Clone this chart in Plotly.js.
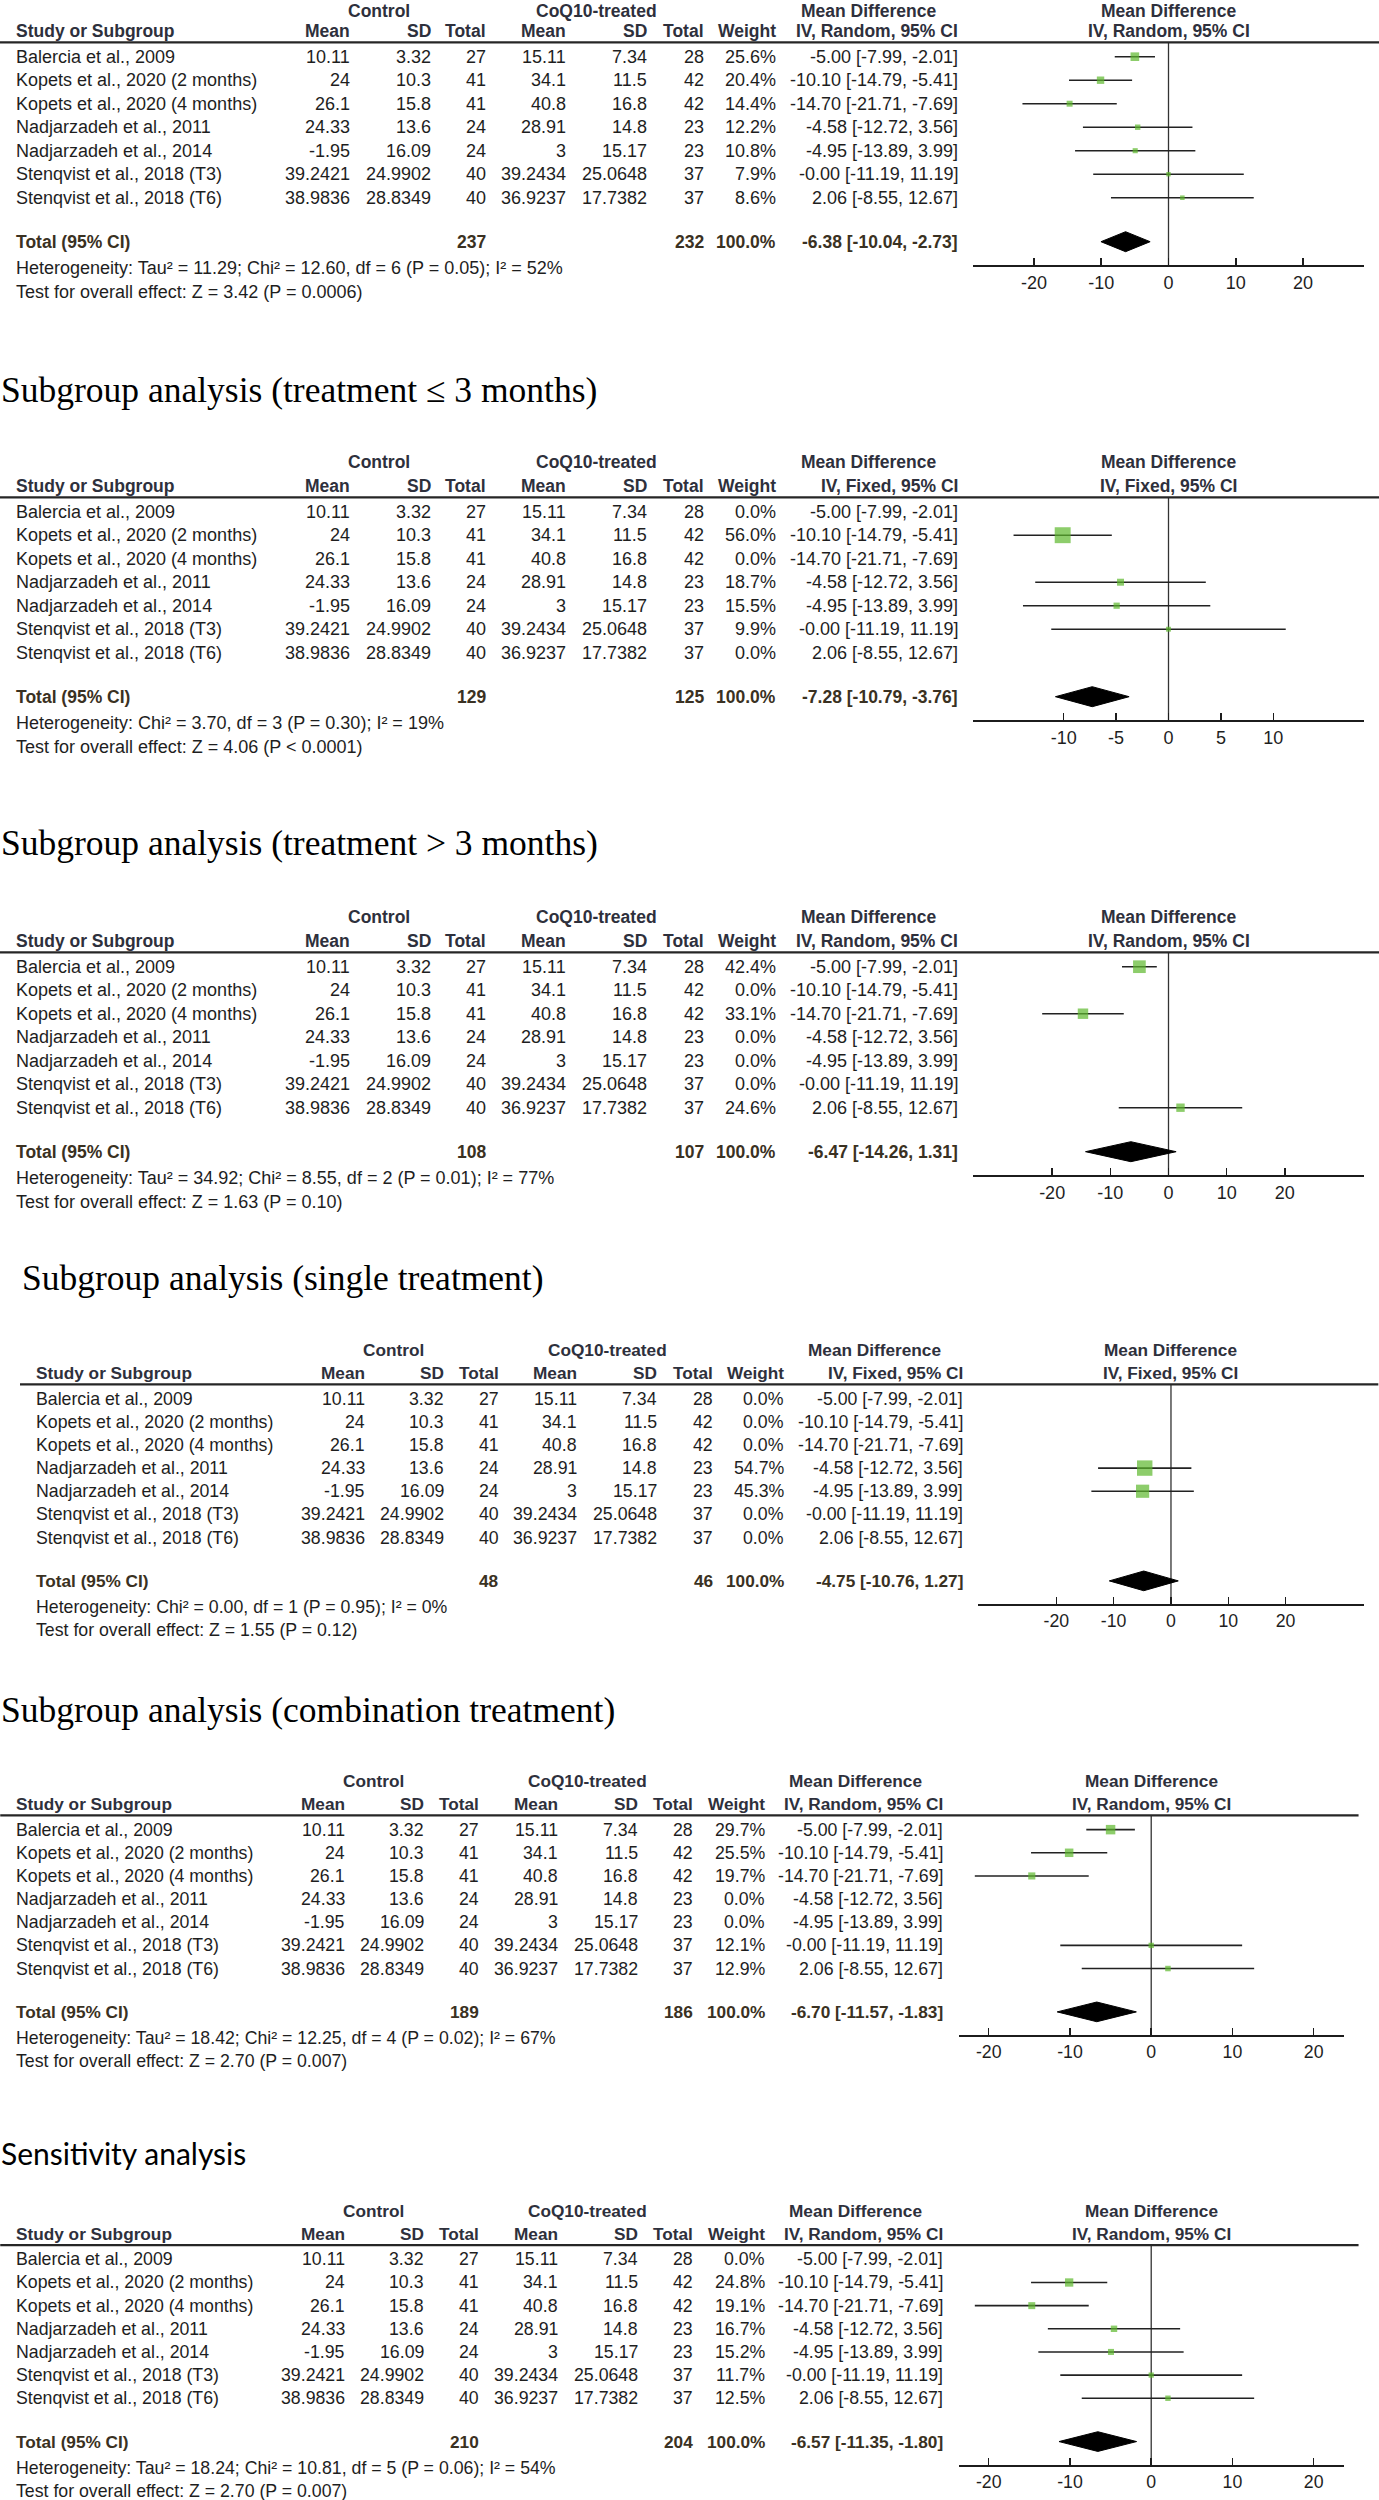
<!DOCTYPE html>
<html><head><meta charset="utf-8">
<script src="https://cdn.plot.ly/plotly-3.0.1.min.js"></script>
<style>html,body{margin:0;padding:0;background:#fff}</style>
</head><body><div id="chart" style="width:1379px;height:2500px"></div>
<script>
// ---------- data ----------
const studies = ["Balercia et al., 2009","Kopets et al., 2020 (2 months)","Kopets et al., 2020 (4 months)","Nadjarzadeh et al., 2011","Nadjarzadeh et al., 2014","Stenqvist et al., 2018 (T3)","Stenqvist et al., 2018 (T6)"];
const ctrlMean = [10.11, 24, 26.1, 24.33, -1.95, 39.2421, 38.9836];
const ctrlSD   = [3.32, 10.3, 15.8, 13.6, 16.09, 24.9902, 28.8349];
const ctrlN    = [27, 41, 41, 24, 24, 40, 40];
const trtMean  = [15.11, 34.1, 40.8, 28.91, 3, 39.2434, 36.9237];
const trtSD    = [7.34, 11.5, 16.8, 14.8, 15.17, 25.0648, 17.7382];
const trtN     = [28, 42, 42, 23, 23, 37, 37];
const meanDiff = [-5.00, -10.10, -14.70, -4.58, -4.95, -0.0013, 2.06];
const ciLow    = [-7.99, -14.79, -21.71, -12.72, -13.89, -11.19, -8.55];
const ciHigh   = [-2.01, -5.41, -7.69, 3.56, 3.99, 11.19, 12.67];

const analysisTitles = [null, "Subgroup analysis (treatment ≤ 3 months)", "Subgroup analysis (treatment &gt; 3 months)", "Subgroup analysis (single treatment)", "Subgroup analysis (combination treatment)", "Sensitivity analysis"];
const models = ["Random", "Fixed", "Random", "Fixed", "Random", "Random"];
const weightsOverall = [25.6, 20.4, 14.4, 12.2, 10.8, 7.9, 8.6];
const weightsShort   = [0.0, 56.0, 0.0, 18.7, 15.5, 9.9, 0.0];
const weightsLong    = [42.4, 0.0, 33.1, 0.0, 0.0, 0.0, 24.6];
const weightsSingle  = [0.0, 0.0, 0.0, 54.7, 45.3, 0.0, 0.0];
const weightsCombo   = [29.7, 25.5, 19.7, 0.0, 0.0, 12.1, 12.9];
const weightsSens    = [0.0, 24.8, 19.1, 16.7, 15.2, 11.7, 12.5];
const weightSets = [weightsOverall, weightsShort, weightsLong, weightsSingle, weightsCombo, weightsSens];
const totalCtrl  = [237, 129, 108, 48, 189, 210];
const totalTrt   = [232, 125, 107, 46, 186, 204];
const pooledMD   = [-6.38, -7.28, -6.47, -4.75, -6.70, -6.57];
const pooledLow  = [-10.04, -10.79, -14.26, -10.76, -11.57, -11.35];
const pooledHigh = [-2.73, -3.76, 1.31, 1.27, -1.83, -1.80];
const heterogeneity = [
  "Heterogeneity: Tau² = 11.29; Chi² = 12.60, df = 6 (P = 0.05); I² = 52%",
  "Heterogeneity: Chi² = 3.70, df = 3 (P = 0.30); I² = 19%",
  "Heterogeneity: Tau² = 34.92; Chi² = 8.55, df = 2 (P = 0.01); I² = 77%",
  "Heterogeneity: Chi² = 0.00, df = 1 (P = 0.95); I² = 0%",
  "Heterogeneity: Tau² = 18.42; Chi² = 12.25, df = 4 (P = 0.02); I² = 67%",
  "Heterogeneity: Tau² = 18.24; Chi² = 10.81, df = 5 (P = 0.06); I² = 54%"];
const overallEffect = [
  "Test for overall effect: Z = 3.42 (P = 0.0006)",
  "Test for overall effect: Z = 4.06 (P &lt; 0.0001)",
  "Test for overall effect: Z = 1.63 (P = 0.10)",
  "Test for overall effect: Z = 1.55 (P = 0.12)",
  "Test for overall effect: Z = 2.70 (P = 0.007)",
  "Test for overall effect: Z = 2.70 (P = 0.007)"];
const tickSets = [[-20,-10,0,10,20], [-10,-5,0,5,10], [-20,-10,0,10,20], [-20,-10,0,10,20], [-20,-10,0,10,20], [-20,-10,0,10,20]];

// ---------- layout geometry (pixels) ----------
const W = 1379, H = 2500;
const B = {studyL:15, ctrlMeanR:351, ctrlSDR:431.6, ctrlNR:487, trtMeanR:567, trtSDR:648, trtNR:704.5,
  weightR:777, ciR:958.6, mdHdrC:868, ctrlGrpC:379, trtGrpC:596, axisL:973, axisR:1364, lineL:0, lineR:1379,
  grpHdrY:7.3, colHdrY:31, hdrLineY:42.3, row0Y:56.7, rowStep:23.5, totalY:241.7, hetY:268.3, testY:291.7, axisY:265};
const geom = [
  {s:1, bx:0, oy:0, R:29.06, grpY:11},
  {s:1, bx:0, oy:455, R:18.66, titleX:0, titleY:390},
  {s:1, bx:0, oy:910, R:33.6, titleX:0, titleY:843.3},
  {s:0.985, bx:20, oy:1342.8, R:33.6, titleX:21, titleY:1278.3},
  {s:0.985, bx:0.24, oy:1773.8, R:23.7, titleX:0, titleY:1710},
  {s:0.985, bx:0.24, oy:2203.5, R:23.7, titleX:0, titleY:2153.3, sans:true}];

const FONT = "Liberation Sans, Arial, sans-serif";
const HDR_COL = "#2e303c", TOT_COL = "#3a3122", TXT_COL = "#1e1e1e", GREEN = "#5cb82c";

const traces = [], annotations = [], shapes = [];
const layout = {width:W, height:H, margin:{l:0,r:0,t:0,b:0}, paper_bgcolor:"#fff", plot_bgcolor:"rgba(0,0,0,0)",
  showlegend:false, annotations, shapes};

function ann(text, xpx, ypx, anchor, size, color, bold, family){
  annotations.push({text: bold ? "<b>"+text+"</b>" : text, x: xpx/W, y: 1 - ypx/H, xref:"paper", yref:"paper",
    xanchor: anchor, yanchor:"middle", showarrow:false, borderpad:0,
    font:{family: family || FONT, size: size, color: color}});
}
const fmt2 = v => v.toFixed(2);
const ciText = (m, l, h) => fmt2(m) + " [" + fmt2(l) + ", " + fmt2(h) + "]";

geom.forEach((g, p) => {
  const X = v => v*g.s + g.bx, Y = v => v*g.s + g.oy;
  const n = p + 1, sfx = n === 1 ? "" : String(n);
  const xa = "x"+sfx, ya = "y"+sfx;
  const fs = 18*g.s, fb = 17.5*g.s;
  const weights = weightSets[p];

  // axes
  const rBottom = (B.axisY - B.row0Y)/B.rowStep, rTop = (B.hdrLineY - B.row0Y)/B.rowStep;
  layout["xaxis"+sfx] = {domain:[X(B.axisL)/W, X(B.axisR)/W], range:[-g.R, g.R], anchor: ya,
    showline:true, linecolor:"#1c1c1c", linewidth:2, ticks:"inside", ticklen:7*g.s, tickwidth:1.5, tickcolor:"#1c1c1c",
    tickvals: tickSets[p], ticktext: tickSets[p].map(v => String(v)), tickfont:{family:FONT, size:fs, color:TXT_COL},
    showgrid:false, zeroline:false, fixedrange:true};
  layout["yaxis"+sfx] = {domain:[1 - Y(B.axisY)/H, 1 - Y(B.hdrLineY)/H], range:[rBottom, rTop], anchor: xa,
    visible:false, showgrid:false, zeroline:false, fixedrange:true};

  // header line & zero line
  shapes.push({type:"line", xref:"paper", yref:"paper", x0:X(B.lineL)/W, x1:X(B.lineR)/W,
    y0:1 - Y(B.hdrLineY)/H, y1:1 - Y(B.hdrLineY)/H, line:{color:"#262626", width:2.2}});
  shapes.push({type:"line", xref:xa, yref:ya+" domain", x0:0, x1:0, y0:0, y1:1, line:{color:"#333", width:1.3}, layer:"below"});

  // title
  if (analysisTitles[p]) {
    if (g.sans) ann(analysisTitles[p], X(g.titleX), g.titleY, "left", 30, "#000", false, "Lato, Open Sans, sans-serif");
    else ann(analysisTitles[p], g.titleX, g.titleY, "left", 35.5, "#000", false, "Liberation Serif, Times New Roman, serif");
  }

  // headers
  const gy = g.grpY !== undefined ? g.grpY : Y(B.grpHdrY);
  ann("Control", X(B.ctrlGrpC), gy, "center", fb, HDR_COL, true);
  ann("CoQ10-treated", X(B.trtGrpC), gy, "center", fb, HDR_COL, true);
  ann("Mean Difference", X(B.mdHdrC), gy, "center", fb, HDR_COL, true);
  ann("Mean Difference", X((B.axisL+B.axisR)/2), gy, "center", fb, HDR_COL, true);
  const ch = Y(B.colHdrY);
  ann("Study or Subgroup", X(B.studyL), ch, "left", fb, HDR_COL, true);
  ann("Mean", X(B.ctrlMeanR), ch, "right", fb, HDR_COL, true);
  ann("SD", X(B.ctrlSDR), ch, "right", fb, HDR_COL, true);
  ann("Total", X(B.ctrlNR), ch, "right", fb, HDR_COL, true);
  ann("Mean", X(B.trtMeanR), ch, "right", fb, HDR_COL, true);
  ann("SD", X(B.trtSDR), ch, "right", fb, HDR_COL, true);
  ann("Total", X(B.trtNR), ch, "right", fb, HDR_COL, true);
  ann("Weight", X(B.weightR), ch, "right", fb, HDR_COL, true);
  ann("IV, " + models[p] + ", 95% CI", X(B.ciR), ch, "right", fb, HDR_COL, true);
  ann("IV, " + models[p] + ", 95% CI", X((B.axisL+B.axisR)/2), ch, "center", fb, HDR_COL, true);

  // rows
  const lx = [], ly = [], sx = [], sy = [], ss = [];
  studies.forEach((st, i) => {
    const y = Y(B.row0Y + i*B.rowStep);
    ann(st, X(B.studyL), y, "left", fs, TXT_COL);
    ann(String(ctrlMean[i]), X(B.ctrlMeanR), y, "right", fs, TXT_COL);
    ann(String(ctrlSD[i]), X(B.ctrlSDR), y, "right", fs, TXT_COL);
    ann(String(ctrlN[i]), X(B.ctrlNR), y, "right", fs, TXT_COL);
    ann(String(trtMean[i]), X(B.trtMeanR), y, "right", fs, TXT_COL);
    ann(String(trtSD[i]), X(B.trtSDR), y, "right", fs, TXT_COL);
    ann(String(trtN[i]), X(B.trtNR), y, "right", fs, TXT_COL);
    ann(weights[i].toFixed(1) + "%", X(B.weightR), y, "right", fs, TXT_COL);
    ann(ciText(meanDiff[i], ciLow[i], ciHigh[i]), X(B.ciR), y, "right", fs, TXT_COL);
    if (weights[i] > 0) {
      lx.push(ciLow[i], ciHigh[i], null); ly.push(i, i, null);
      sx.push(meanDiff[i]); sy.push(i); ss.push((2.5 + 0.24*weights[i])*g.s);
    }
  });
  traces.push({type:"scatter", mode:"lines", x:lx, y:ly, xaxis:xa, yaxis:ya, line:{color:"#222", width:1.6}, hoverinfo:"skip", cliponaxis:false});
  traces.push({type:"scatter", mode:"markers", x:sx, y:sy, xaxis:xa, yaxis:ya,
    marker:{symbol:"square", size:ss, color:GREEN, line:{width:0}}, hoverinfo:"skip", cliponaxis:false});

  // total row
  const ty = Y(B.totalY), tr = (B.totalY - B.row0Y)/B.rowStep, hh = 10/B.rowStep;
  ann("Total (95% CI)", X(B.studyL), ty, "left", fb, TOT_COL, true);
  ann(String(totalCtrl[p]), X(B.ctrlNR), ty, "right", fb, TOT_COL, true);
  ann(String(totalTrt[p]), X(B.trtNR), ty, "right", fb, TOT_COL, true);
  ann("100.0%", X(B.weightR), ty, "right", fb, TOT_COL, true);
  ann(ciText(pooledMD[p], pooledLow[p], pooledHigh[p]), X(B.ciR), ty, "right", fb, TOT_COL, true);
  traces.push({type:"scatter", mode:"lines", xaxis:xa, yaxis:ya,
    x:[pooledLow[p], pooledMD[p], pooledHigh[p], pooledMD[p], pooledLow[p]],
    y:[tr, tr - hh, tr, tr + hh, tr], fill:"toself", fillcolor:"#000", line:{color:"#000", width:1}, hoverinfo:"skip", cliponaxis:false});

  ann(heterogeneity[p], X(B.studyL), Y(B.hetY), "left", fs, TXT_COL);
  ann(overallEffect[p], X(B.studyL), Y(B.testY), "left", fs, TXT_COL);
});

Plotly.newPlot("chart", traces, layout, {staticPlot:true, displayModeBar:false});
</script></body></html>
